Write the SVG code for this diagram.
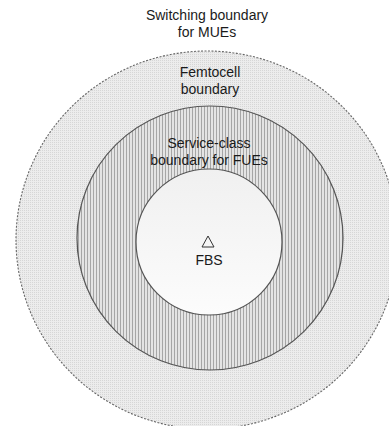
<svg xmlns="http://www.w3.org/2000/svg" width="389" height="426" viewBox="0 0 389 426">
  <style>
    .lbl { font-family: "Liberation Sans", Arial, sans-serif; font-size: 14px; fill: #1a1a1a; text-anchor: middle; }
    .edge { stroke: #555; stroke-width: 1.2; }
  </style>
  <defs>
    <pattern id="dots" width="2" height="2" patternUnits="userSpaceOnUse">
      <rect width="2" height="2" fill="#ececec"/>
      <rect width="1" height="1" fill="#d6d6d6"/>
    </pattern>
    <pattern id="stripes" width="3" height="3" patternUnits="userSpaceOnUse">
      <rect width="3" height="3" fill="#e4e4e4"/>
      <rect width="1" height="3" fill="#a6a6a6"/>
    </pattern>
    <linearGradient id="innerFill" x1="0" y1="0" x2="0" y2="1">
      <stop offset="0" stop-color="#f0f0f0"/>
      <stop offset="1" stop-color="#fcfcfc"/>
    </linearGradient>
  </defs>

  <g id="switching-boundary">
    <ellipse cx="207" cy="240" rx="191" ry="189" fill="url(#dots)" stroke="#666" stroke-width="1.1" stroke-dasharray="2,1.5"/>
    <text class="lbl" x="207" y="20">Switching boundary</text>
    <text class="lbl" x="207" y="37">for MUEs</text>
  </g>

  <g id="femtocell-boundary">
    <ellipse cx="210" cy="238" rx="133" ry="132" fill="url(#stripes)" class="edge"/>
    <text class="lbl" x="210" y="77">Femtocell</text>
    <text class="lbl" x="210" y="94">boundary</text>
  </g>

  <g id="service-class-boundary">
    <circle cx="209" cy="242" r="73" fill="url(#innerFill)" class="edge"/>
    <text class="lbl" x="209" y="148">Service-class</text>
    <text class="lbl" x="209" y="165">boundary for FUEs</text>
  </g>

  <g id="fbs">
    <polygon points="208,236 202,247 214,247" fill="none" stroke="#333" stroke-width="1"/>
    <text class="lbl" x="209" y="265">FBS</text>
  </g>
</svg>
